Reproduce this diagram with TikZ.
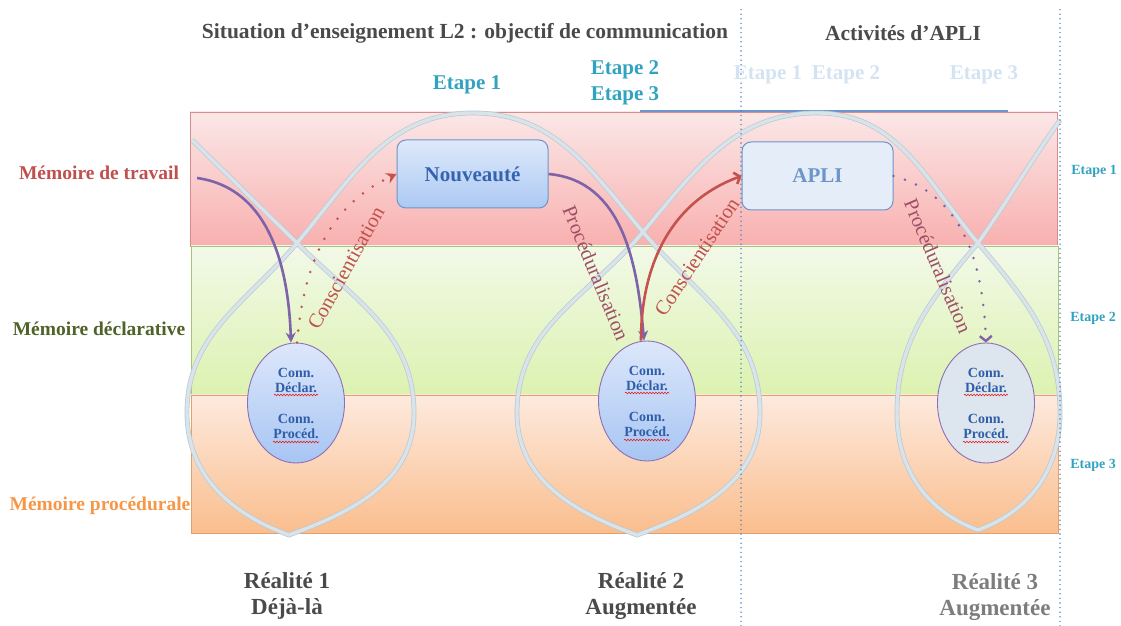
\documentclass[tikz,border=0pt]{standalone}
\usepackage{fontspec}
\setmainfont{Liberation Serif}
\usetikzlibrary{arrows.meta,shapes.geometric,decorations.pathmorphing}

\definecolor{titlegray}{RGB}{74,74,74}
\definecolor{realgray}{RGB}{125,125,125}
\definecolor{etapecyan}{RGB}{49,163,193}
\definecolor{etapelight}{RGB}{212,227,242}
\definecolor{redtxt}{RGB}{192,80,77}
\definecolor{greentxt}{RGB}{79,98,40}
\definecolor{orangetxt}{RGB}{247,150,70}
\definecolor{proctxt}{RGB}{158,79,103}
\definecolor{redtop}{RGB}{251,231,231}
\definecolor{redbot}{RGB}{248,176,175}
\definecolor{redline}{RGB}{214,140,138}
\definecolor{greentop}{RGB}{242,249,232}
\definecolor{greenbot}{RGB}{220,242,176}
\definecolor{greenline}{RGB}{165,196,122}
\definecolor{orangetop}{RGB}{253,234,222}
\definecolor{orangebot}{RGB}{250,190,142}
\definecolor{orangeline}{RGB}{227,160,106}
\definecolor{loopfill}{RGB}{216,227,234}
\definecolor{loopedge}{RGB}{185,201,211}
\definecolor{dotblue}{RGB}{79,129,189}
\definecolor{boxblue}{RGB}{108,149,201}
\definecolor{nouvtop}{RGB}{222,233,251}
\definecolor{nouvbot}{RGB}{172,201,243}
\definecolor{nouvtext}{RGB}{52,100,176}
\definecolor{aplifill}{RGB}{229,237,249}
\definecolor{aplitext}{RGB}{108,149,201}
\definecolor{ellpurple}{RGB}{141,111,181}
\definecolor{elltop}{RGB}{221,231,251}
\definecolor{ellbot}{RGB}{167,197,243}
\definecolor{ellflat}{RGB}{221,230,238}
\definecolor{connblue}{RGB}{47,94,168}
\definecolor{arrpurple}{RGB}{127,99,168}
\definecolor{redarrow}{RGB}{197,82,78}
\definecolor{spellred}{RGB}{230,30,30}

\tikzset{
  memband/.style={line width=0.8pt},
  loopline/.style={draw=loopedge, double=loopfill, double distance=3.4pt, line width=0.7pt},
  dotline/.style={draw=dotblue, line width=1.6pt, line cap=round, dash pattern=on 0pt off 4.6pt},
  memlabel/.style={font=\fontsize{19.5}{22}\selectfont\bfseries},
  headlabel/.style={font=\fontsize{21.5}{24}\selectfont\bfseries, text=titlegray},
  etapelabel/.style={font=\fontsize{21}{26}\selectfont\bfseries, text=etapecyan, align=center},
  sidelabel/.style={font=\fontsize{14}{16}\selectfont\bfseries, text=etapecyan},
  realite/.style={font=\fontsize{23}{26}\selectfont\bfseries, align=center},
  actbox/.style={draw=boxblue, line width=1pt, rounded corners=9pt, minimum width=151pt, minimum height=68pt, font=\fontsize{21}{24}\selectfont\bfseries},
  connell/.style={ellipse, draw=ellpurple, line width=0.9pt, minimum width=97pt, minimum height=120pt, inner sep=0pt, align=center, font=\fontsize{14}{15}\selectfont\bfseries, text=connblue},
  spellwave/.style={draw=spellred, line width=0.6pt, decorate, decoration={snake, amplitude=0.8pt, segment length=3pt}},
  arrowlabel/.style={font=\fontsize{20.5}{22}\selectfont},
  fleche/.style={line width=2.6pt},
  pointille/.style={line width=2.8pt, line cap=round, dash pattern=on 0pt off 12pt},
}

\begin{document}
\begin{tikzpicture}[x=1pt,y=1pt]
    \useasboundingbox (0,0) rectangle (1121,626);
    % memory bands
    \shadedraw[memband, top color=redtop, bottom color=redbot, draw=redline] (190,380) rectangle (1057,514);
    \shadedraw[memband, top color=greentop, bottom color=greenbot, draw=greenline] (191,231) rectangle (1058,380);
    \shadedraw[memband, top color=orangetop, bottom color=orangebot, draw=orangeline] (191,93) rectangle (1058,231);
    \draw[line width=1.2pt, draw=boxblue] (640,515) -- (1008,515);

    % the loop
    \draw[loopline] (192,486) -- (297,383)
        to[out=-45,in=90] (414,213) to[out=-90,in=20] (289,91) to[out=160,in=-90] (187,213) to[out=90,in=-130] (297,383)
        to[out=50,in=180] (473,513) to[out=0,in=130] (643,394)
        to[out=-50,in=90] (760,213) to[out=-90,in=20] (637,91) to[out=160,in=-90] (517,213) to[out=90,in=-130] (643,394)
        to[out=50,in=180] (817,513) to[out=0,in=130] (978,383)
        to[out=-50,in=90] (1060,213) to[out=-90,in=20] (978,96) to[out=160,in=-90] (897,213) to[out=90,in=-130] (978,383)
        to[out=55,in=-125] (1060,506);

    % boxes
    \node[actbox, top color=nouvtop, bottom color=nouvbot, text=nouvtext] (nouv) at (472.5,452) {Nouveauté};
    \node[actbox, fill=aplifill, text=aplitext] (apli) at (817.5,450) {APLI};
    \node[connell, top color=elltop, bottom color=ellbot] (e1) at (296,223) {Conn.\\Déclar.\\[16pt]Conn.\\Procéd.};
    \node[connell, top color=elltop, bottom color=ellbot] (e2) at (647,225) {Conn.\\Déclar.\\[16pt]Conn.\\Procéd.};
    \node[connell, fill=ellflat] (e3) at (986,223) {Conn.\\Déclar.\\[16pt]Conn.\\Procéd.};
    \foreach \e in {e1,e2,e3} {
        \draw[spellwave] ([shift={(-22,8)}]\e.center) -- ([shift={(22,8)}]\e.center);
        \draw[spellwave] ([shift={(-23,-39)}]\e.center) -- ([shift={(23,-39)}]\e.center);
    }

    % arrows
    \coordinate (wm) at (197,448);
    \draw[fleche, draw=arrpurple, -{Stealth[length=10pt,width=10pt]}] (wm) to[out=-8,in=92] ([xshift=-5pt]e1.north);
    \draw[pointille, draw=redarrow, -{Stealth[length=10pt,width=11pt]}] ([xshift=1pt]e1.north) to[out=85,in=205] (nouv.west);
    \draw[fleche, draw=arrpurple, -{Stealth[length=10pt,width=10pt]}] (nouv.east) to[out=-5,in=95] ([xshift=-3pt]e2.north);
    \draw[fleche, draw=redarrow, -{Straight Barb[length=5pt,width=12pt]}] ([xshift=-6pt]e2.north) to[out=90,in=200] (apli.west);
    \draw[pointille, draw=arrpurple, -{Straight Barb[length=5pt,width=12pt,line width=2.4pt]}] (apli.east) to[out=-15,in=92] (e3.north);

    \node[arrowlabel, text=redtxt, rotate=61] (cons1) at (346,358) {Conscientisation};
    \node[arrowlabel, text=proctxt, rotate=-67.5] (proc1) at (596,353) {Procéduralisation};
    \node[arrowlabel, text=redtxt, rotate=56.6] (cons2) at (697,369) {Conscientisation};
    \node[arrowlabel, text=proctxt, rotate=-67] (proc2) at (938,360) {Procéduralisation};

    % dotted separators
    \draw[dotline] (741,0) -- (741,618);
    \draw[dotline] (1060,0) -- (1060,618);

    % texts
    \node[headlabel] (titre) at (465,593) {Situation d’enseignement L2 : objectif de communication};
    \node[headlabel] (activ) at (903,593) {Activités d’APLI};
    \node[etapelabel] (et1) at (467,541) {Etape 1};
    \node[etapelabel] (et23) at (625,543) {Etape 2\\Etape 3};
    \node[etapelabel, text=etapelight] (al1) at (768,551) {Etape 1};
    \node[etapelabel, text=etapelight] (al2) at (846,551) {Etape 2};
    \node[etapelabel, text=etapelight] (al3) at (984,551) {Etape 3};
    \node[sidelabel] (s1) at (1094,455) {Etape 1};
    \node[sidelabel] (s2) at (1093,308) {Etape 2};
    \node[sidelabel] (s3) at (1093,161) {Etape 3};
    \node[memlabel, text=redtxt] (mt) at (99,453) {Mémoire de travail};
    \node[memlabel, text=greentxt] (md) at (99,297) {Mémoire déclarative};
    \node[memlabel, text=orangetxt] (mp) at (100,120) {Mémoire procédurale};
    \node[realite, text=titlegray] (r1) at (287,30) {Réalité 1\\Déjà-là};
    \node[realite, text=titlegray] (r2) at (641,30) {Réalité 2\\Augmentée};
    \node[realite, text=realgray] (r3) at (995,29) {Réalité 3\\Augmentée};
\end{tikzpicture}
\end{document}
